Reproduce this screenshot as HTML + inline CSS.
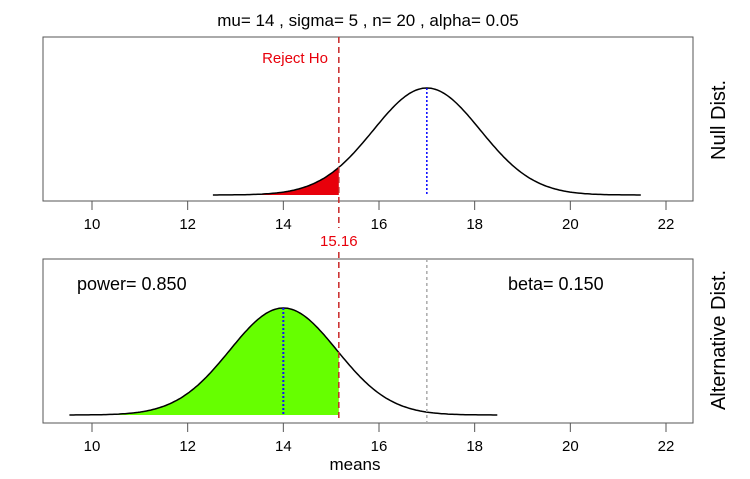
<!DOCTYPE html>
<html><head><meta charset="utf-8"><style>
body{margin:0;background:#fff;}
svg{display:block;font-family:"Liberation Sans",Arial,sans-serif;}
</style></head><body>
<svg id="c" width="750" height="479"></svg>
<script>
const ticks=[10,12,14,16,18,20,22];
const nullMean=17, altMean=14, sd=5/Math.sqrt(20), crit=15.16;
const powerVal=0.850, betaVal=0.150;
const svg=document.getElementById('c');
const NS='http://www.w3.org/2000/svg';
function el(t,a,txt,parent){const e=document.createElementNS(NS,t);for(const k in a)e.setAttribute(k,a[k]);if(txt!==undefined)e.textContent=txt;(parent||svg).appendChild(e);return e;}
const X=v=>92+(v-10)*(574/12);
const dn=(x,m)=>Math.exp(-0.5*((x-m)/sd)**2)/(sd*Math.sqrt(2*Math.PI));
const K=107/dn(0,0);
function panel(top,bot,base,mean,name){
  const Y=d=>base-d*K;
  const g=el('g',{});
  
  
  const box=el('rect',{x:43,y:top,width:650,height:bot-top,fill:'none',stroke:'#555','stroke-width':1},undefined,g);
  
  ticks.forEach(t=>{
    const l=el('line',{x1:X(t),x2:X(t),y1:bot,y2:bot+9,stroke:'#555'},undefined,g);
    
    const tx=el('text',{x:X(t),y:bot+28,'text-anchor':'middle','font-size':15},String(t),g);
    
  });
  return {Y,g};
}
function curvePts(mean,a,b,Y){const p=[];for(let i=0;i<=200;i++){const x=a+(b-a)*i/200;p.push(X(x).toFixed(1)+','+Y(dn(x,mean)).toFixed(1));}return p;}
const ti=el('text',{x:368,y:26,'text-anchor':'middle','font-size':17},'mu= 14 , sigma= 5 , n= 20 , alpha= 0.05');

const P1=panel(37,201,195,nullMean,'null-panel');
{const a=nullMean-4*sd,b=crit;const pts=curvePts(nullMean,a,b,P1.Y);
 const f=el('polygon',{points:pts.join(' ')+' '+X(b)+','+195+' '+X(a)+','+195,fill:'#e8000b'},undefined,P1.g);
 
 const c=el('polyline',{points:curvePts(nullMean,nullMean-4*sd,nullMean+4*sd,P1.Y).join(' '),fill:'none',stroke:'#000','stroke-width':1.5},undefined,P1.g);
 
 const m=el('line',{x1:X(nullMean),x2:X(nullMean),y1:P1.Y(dn(nullMean,nullMean)),y2:195,stroke:'#00f','stroke-dasharray':'2,2','stroke-width':1.5},undefined,P1.g);
 
 const r=el('text',{x:295,y:63,'text-anchor':'middle','font-size':15,fill:'#e8000b'},'Reject Ho',P1.g);
 
 const yl=el('text',{x:0,y:0,'text-anchor':'middle','font-size':20,transform:'translate(725,120) rotate(-90)'},'Null Dist.',P1.g);
 }
const P2=panel(259,423,415,altMean,'alt-panel');
{const a=altMean-4*sd,b=crit;const pts=curvePts(altMean,a,b,P2.Y);
 const f=el('polygon',{points:pts.join(' ')+' '+X(b)+','+415+' '+X(a)+','+415,fill:'#66ff00'},undefined,P2.g);
 
 const c=el('polyline',{points:curvePts(altMean,altMean-4*sd,altMean+4*sd,P2.Y).join(' '),fill:'none',stroke:'#000','stroke-width':1.5},undefined,P2.g);
 
 const m=el('line',{x1:X(altMean),x2:X(altMean),y1:P2.Y(dn(altMean,altMean)),y2:415,stroke:'#1010ff','stroke-dasharray':'2,2','stroke-width':2},undefined,P2.g);
 
 const gl=el('line',{x1:X(nullMean),x2:X(nullMean),y1:259,y2:423,stroke:'#aaa','stroke-dasharray':'3,3','stroke-width':1.5},undefined,P2.g);
 
 const pw=el('text',{x:77,y:290,'font-size':18},'power= '+powerVal.toFixed(3),P2.g);
 
 const bt=el('text',{x:508,y:290,'font-size':18},'beta= '+betaVal.toFixed(3),P2.g);
 
 const xl=el('text',{x:355,y:470,'text-anchor':'middle','font-size':17},'means',P2.g);
 
 const yl=el('text',{x:0,y:0,'text-anchor':'middle','font-size':20,transform:'translate(725,340) rotate(-90)'},'Alternative Dist.',P2.g);
 }
const cl1=el('line',{x1:X(crit),x2:X(crit),y1:37,y2:228,stroke:'#c82828','stroke-dasharray':'6,4','stroke-width':1.5});

const cl2=el('line',{x1:X(crit),x2:X(crit),y1:252,y2:421,stroke:'#c82828','stroke-dasharray':'6,4','stroke-width':1.5});

const ct=el('text',{x:X(crit),y:246,'text-anchor':'middle','font-size':15,fill:'#e8000b'},crit.toFixed(2));

</script>
</body></html>
